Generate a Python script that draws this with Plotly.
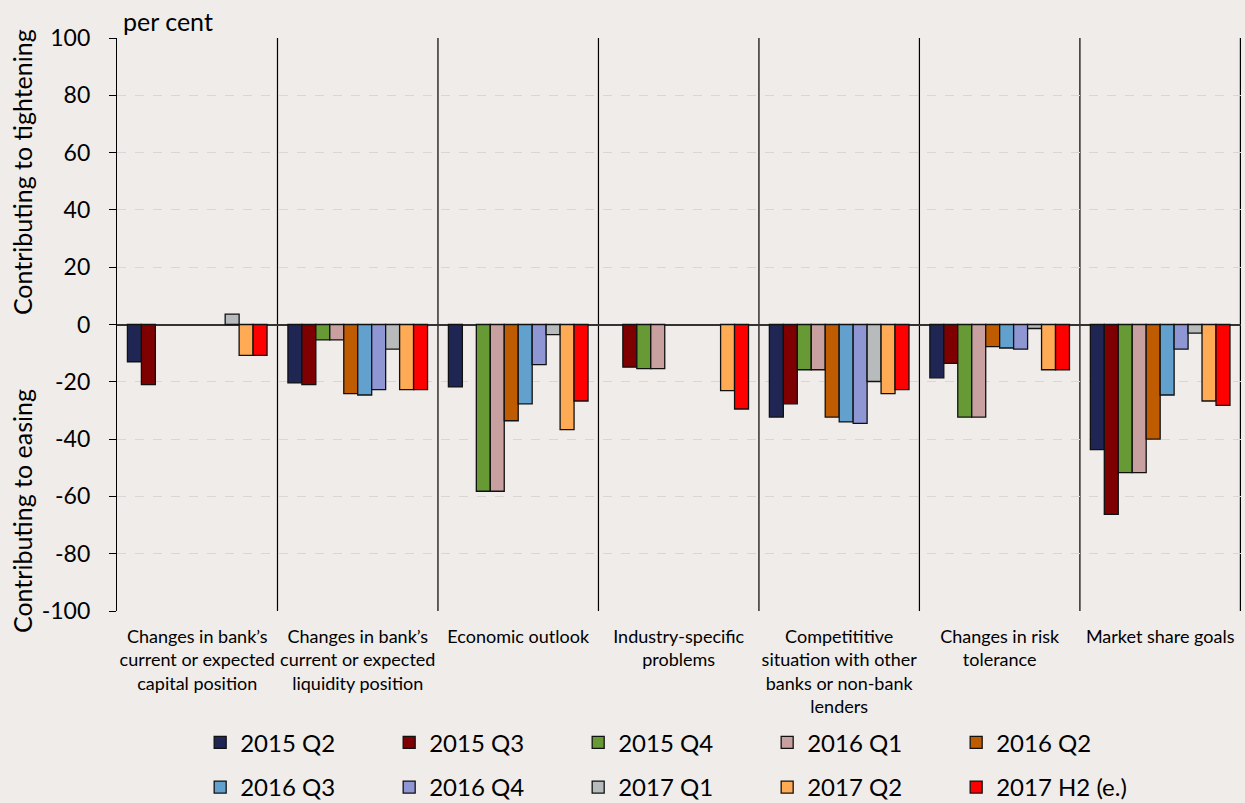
import plotly.graph_objects as go

categories = [
    "Changes in bank’s<br>current or expected<br>capital position",
    "Changes in bank’s<br>current or expected<br>liquidity position",
    "Economic outlook",
    "Industry-specific<br>problems",
    "Competititive<br>situation with other<br>banks or non-bank<br>lenders",
    "Changes in risk<br>tolerance",
    "Market share goals",
]

series_names = ["2015 Q2", "2015 Q3", "2015 Q4", "2016 Q1", "2016 Q2",
                "2016 Q3", "2016 Q4", "2017 Q1", "2017 Q2", "2017 H2 (e.)"]

v_2015_q2 = [-13.0, -20.4, -21.8, 0, -32.3, -18.6, -43.7]
v_2015_q3 = [-21.0, -21.0, 0, -14.9, -27.7, -13.6, -66.3]
v_2015_q4 = [0, -5.4, -58.2, -15.4, -15.8, -32.3, -51.7]
v_2016_q1 = [0, -5.4, -58.2, -15.4, -15.8, -32.3, -51.7]
v_2016_q2 = [0, -24.1, -33.6, 0, -32.3, -7.7, -40.0]
v_2016_q3 = [0, -24.6, -27.7, 0, -34.0, -8.2, -24.6]
v_2016_q4 = [0, -22.7, -14.0, 0, -34.5, -8.6, -8.6]
v_2017_q1 = [3.6, -8.6, -3.5, 0, -19.9, -1.4, -3.0]
v_2017_q2 = [-10.8, -22.7, -36.7, -23.1, -24.1, -15.8, -26.7]
v_2017_h2 = [-10.8, -22.7, -26.7, -29.5, -22.7, -15.8, -28.2]

series_values = [v_2015_q2, v_2015_q3, v_2015_q4, v_2016_q1, v_2016_q2,
                 v_2016_q3, v_2016_q4, v_2017_q1, v_2017_q2, v_2017_h2]

colors = ["#1F2654", "#7F0000", "#679A34", "#C9A0A0", "#BF5B00",
          "#62A0CD", "#8F96D4", "#B8BBBB", "#FFAA55", "#FF0000"]

y_ticks = [-100, -80, -60, -40, -20, 0, 20, 40, 60, 80, 100]
y_tick_labels = [str(v) for v in y_ticks]

FONT = "Lato"
BG = "#EFECE9"

fig = go.Figure()
for i, (name, vals, col) in enumerate(zip(series_names, series_values, colors)):
    fig.add_trace(go.Bar(
        x=categories, y=[v if v != 0 else None for v in vals], name=name,
        legend="legend" if i < 5 else "legend2",
        marker=dict(color=col, line=dict(color="#111111", width=1.3)),
    ))

shapes = []
for i in range(1, len(categories) + 1):
    shapes.append(dict(type="line", xref="x", yref="paper",
                       x0=i - 0.5, x1=i - 0.5, y0=0, y1=1,
                       line=dict(color="#000000", width=1.2), layer="below"))

legend_common = dict(orientation="h", xanchor="left", yanchor="middle",
                     entrywidth=144, entrywidthmode="pixels",
                     font=dict(family=FONT, size=24), traceorder="normal",
                     itemwidth=30, bgcolor="rgba(0,0,0,0)")

fig.update_layout(
    width=1245, height=803,
    paper_bgcolor=BG, plot_bgcolor=BG,
    barmode="group", bargap=0.13, bargroupgap=0,
    margin=dict(l=117, r=4, t=38, b=192, autoexpand=False),
    font=dict(family=FONT, size=20, color="#000000"),
    showlegend=True,
    legend=dict(x=0.074, y=-0.23, **legend_common),
    legend2=dict(x=0.074, y=-0.308, **legend_common),
    shapes=shapes,
    annotations=[
        dict(text="per cent", xref="paper", yref="paper", x=0.004, y=1.0,
             xanchor="left", yanchor="bottom", showarrow=False,
             font=dict(family=FONT, size=25)),
        dict(text="Contributing to tightening", xref="paper", yref="paper",
             x=-0.0845, y=0.766, xanchor="center", yanchor="middle", textangle=-90,
             showarrow=False, font=dict(family=FONT, size=25)),
        dict(text="Contributing to easing", xref="paper", yref="paper",
             x=-0.0845, y=0.1745, xanchor="center", yanchor="middle", textangle=-90,
             showarrow=False, font=dict(family=FONT, size=25)),
    ],
)

fig.update_yaxes(range=[-100, 100], tickvals=y_ticks, ticktext=y_tick_labels,
                 ticks="outside", ticklen=7,
                 tickcolor="#000000", showline=True, linecolor="#000000", linewidth=1.2,
                 showgrid=True, gridcolor="#D9D6D3", griddash="dash", gridwidth=1,
                 zeroline=True, zerolinecolor="#333333", zerolinewidth=1.5,
                 ticklabelstandoff=14, automargin=False,
                 tickfont=dict(family=FONT, size=23))
fig.update_xaxes(showline=False, showgrid=False, ticks="", automargin=False,
                 ticklabelstandoff=13,
                 tickfont=dict(family=FONT, size=18), tickangle=0)

fig.write_html("out.html", config={"displayModeBar": False},
               post_script="document.body.style.margin='0';")
